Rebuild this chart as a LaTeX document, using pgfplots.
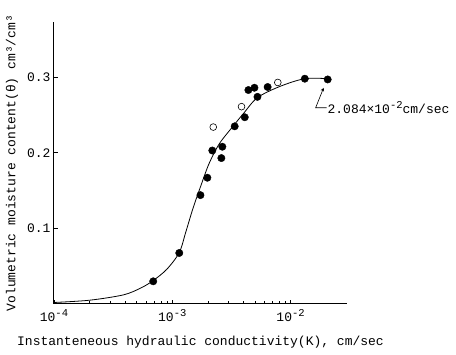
\documentclass[border=0pt]{standalone}
\usepackage{fontspec}
\setmainfont{Liberation Mono}
\usepackage{pgfplots}
\pgfplotsset{compat=1.18}
\newcommand{\sexp}[1]{\raisebox{0.75ex}{\fontsize{10.5}{11}\selectfont #1}}
\begin{document}
\fontsize{13}{15}\selectfont
\begin{tikzpicture}
\useasboundingbox (-54pt,-51pt) rectangle (402pt,304pt);
\begin{axis}[
  at={(0,0)}, anchor=south west,
  scale only axis, width=293pt, height=282pt,
  xmode=log, xmin=1e-4, xmax=3e-2, ymin=0, ymax=0.373,
  axis lines*=left,
  axis line style={black, line width=1pt},
  clip=false,
  xtick={1e-4,1e-3,1e-2},
  xticklabels={10\sexp{-4},10\sexp{-3},10\sexp{-2}},
  ytick={0.1,0.2,0.3},
  yticklabels={0.1,0.2,0.3},
  tick align=inside,
  major tick length=4pt, minor tick length=2.5pt,
  tick style={black, line width=0.6pt},
  xticklabel style={yshift=-1pt},
  yticklabel style={xshift=1pt},
  xlabel={Instanteneous hydraulic conductivity(K), cm/sec},
  ylabel={Volumetric moisture content(θ) cm³/cm³},
  every axis x label/.style={at={(axis description cs:0.5,-0.135)}, anchor=center},
  every axis y label/.style={at={(axis description cs:-0.1433,0.5)}, anchor=center, rotate=90},
]
% fitted curve
\addplot[black, line width=0.8pt, smooth, tension=0.5] coordinates {
(1e-4,0.002) (2e-4,0.005) (3.85e-4,0.012) (5.4e-4,0.021) (6.9e-4,0.031)
(9e-4,0.046) (1.146e-3,0.068) (1.3e-3,0.095) (1.5e-3,0.127) (1.75e-3,0.157)
(2.05e-3,0.186) (2.5e-3,0.212) (3.22e-3,0.234) (4e-3,0.252)
(5.25e-3,0.273) (8.2e-3,0.288) (1.32e-2,0.298) (2.08e-2,0.298)
};
% filled points
\addplot[only marks, mark=*, mark size=3.7pt, black] coordinates {
(6.9e-4,0.030) (1.146e-3,0.0675) (1.73e-3,0.144) (1.98e-3,0.167)
(2.18e-3,0.203) (2.65e-3,0.208) (2.6e-3,0.193) (3.37e-3,0.235)
(4.1e-3,0.247) (4.4e-3,0.283) (4.95e-3,0.286) (5.25e-3,0.274)
(6.4e-3,0.287) (1.32e-2,0.298) (2.06e-2,0.297)
};
% open points
\addplot[only marks, mark=o, mark size=3.4pt, black, line width=0.6pt] coordinates {
(2.22e-3,0.234) (3.85e-3,0.261) (7.8e-3,0.293)
};
\draw[black, line width=0.6pt, ->, >=stealth] (axis cs:2.02e-2,0.2596) -- (axis cs:1.63e-2,0.2596) -- (axis cs:1.905e-2,0.286);
\node[anchor=west, inner sep=0pt] at (axis cs:2.05e-2,0.2596) {2.084×10\sexp{-2}cm/sec};
\end{axis}
\end{tikzpicture}
\end{document}
